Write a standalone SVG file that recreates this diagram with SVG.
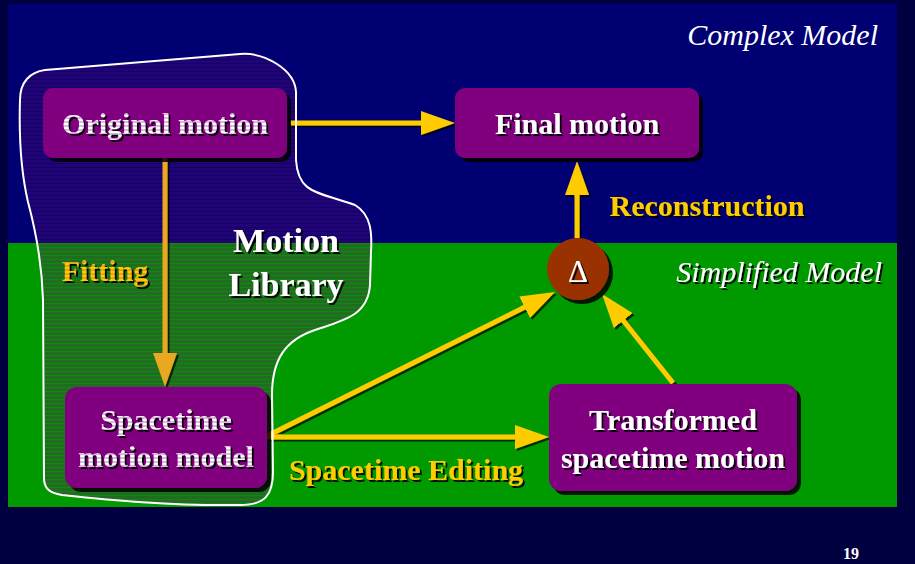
<svg xmlns="http://www.w3.org/2000/svg" width="915" height="564" viewBox="0 0 915 564">
<style>
.t{font-family:"Liberation Serif","Times New Roman",serif;font-weight:bold;font-size:30px;text-anchor:middle}
.w{fill:#ffffff}
.p{fill:url(#pinkstripe)}
.y{fill:#ffcc00}
.o{fill:url(#orangestripe)}
.it{font-family:"Liberation Serif","Times New Roman",serif;font-style:italic;font-size:30px;fill:#ffffff;text-anchor:end}
.box{fill:#800080}
.ln{stroke:#ffcc00;stroke-width:5;fill:none}
</style>
<defs>
<filter id="ts" x="-10%" y="-20%" width="130%" height="150%"><feDropShadow dx="2" dy="2" stdDeviation="0" flood-color="#000000" flood-opacity="0.9"/></filter>
<filter id="bs" x="-10%" y="-10%" width="130%" height="130%"><feDropShadow dx="4" dy="4" stdDeviation="0.6" flood-color="#000000" flood-opacity="0.85"/></filter>
<filter id="as" x="-20%" y="-20%" width="150%" height="150%"><feDropShadow dx="2" dy="2" stdDeviation="0" flood-color="#000000" flood-opacity="0.7"/></filter>
<marker id="ah" markerUnits="userSpaceOnUse" markerWidth="34" markerHeight="24" refX="2" refY="12" orient="auto"><path d="M0,0 L34,12 L0,24 Z" fill="#ffcc00"/></marker>
<marker id="aho" markerUnits="userSpaceOnUse" markerWidth="34" markerHeight="24" refX="2" refY="12" orient="auto"><path d="M0,0 L34,12 L0,24 Z" fill="#e8a820"/></marker>
<pattern id="hatch" patternUnits="userSpaceOnUse" width="6" height="4"><rect width="6" height="3" fill="#6e0a6e" fill-opacity="0.32"/><rect y="3" width="6" height="1" fill="#6e0a6e" fill-opacity="0.1"/></pattern>
<pattern id="pinkstripe" patternUnits="userSpaceOnUse" width="6" height="4"><rect width="6" height="4" fill="#ffffff"/><rect y="1" width="6" height="2" fill="#dcbcdc"/></pattern>
<pattern id="orangestripe" patternUnits="userSpaceOnUse" width="6" height="4"><rect width="6" height="4" fill="#ffcc00"/><rect y="1" width="6" height="2" fill="#e6a41c"/></pattern>
</defs>
<rect width="915" height="564" fill="#000040"/>
<rect x="8" y="4" width="889" height="240" fill="#000073"/>
<rect x="8" y="243" width="889" height="264" fill="#009900"/>
<path id="library-fill" d="M20 100 C20 82 30 72 45 70 L240 54 C265 52 295 70 296 92 L296 160 C298 195 320 192 355 205 C372 215 372 235 371 252 L370 285 C368 315 345 320 315 330 C285 340 272 360 272 395 L273 472 C273 495 265 505 240 505 C170 506 110 500 62 495 C49 493 44 488 44 478 L43 300 C42 262 36 232 28 202 C21 172 19 132 20 100 Z" fill="url(#hatch)"/>
<g id="connectors" filter="url(#as)">
<line class="ln" x1="290" y1="123" x2="423" y2="123" marker-end="url(#ah)"/>
<line class="ln" x1="577" y1="238" x2="577" y2="193" marker-end="url(#ah)"/>
<line class="ln" x1="165" y1="158" x2="165" y2="355" style="stroke:#e8a820" marker-end="url(#aho)"/>
<line class="ln" x1="267" y1="437" x2="517" y2="437" marker-end="url(#ah)"/>
<line class="ln" x1="267" y1="436" x2="526.4" y2="306.3" marker-end="url(#ah)"/>
<line class="ln" x1="673" y1="383" x2="622" y2="319" marker-end="url(#ah)"/>
</g>
<g id="edge-labels">
<text class="t y" x="707" y="216" filter="url(#ts)">Reconstruction</text>
<text class="t y" x="406" y="480" filter="url(#ts)">Spacetime Editing</text>
<text class="t o" x="105" y="281" filter="url(#ts)">Fitting</text>
</g>
<g id="original-motion">
<rect class="box" x="43" y="88" width="244" height="70" rx="10" filter="url(#bs)"/>
<text class="t p" x="165" y="134" filter="url(#ts)">Original motion</text>
</g>
<g id="final-motion">
<rect class="box" x="455" y="88" width="244" height="70" rx="10" filter="url(#bs)"/>
<text class="t w" x="577" y="134" filter="url(#ts)">Final motion</text>
</g>
<g id="spacetime-motion-model">
<rect class="box" x="65" y="387" width="202" height="101" rx="12" filter="url(#bs)"/>
<text class="t p" x="166" y="430" filter="url(#ts)">Spacetime</text>
<text class="t p" x="166" y="467" filter="url(#ts)">motion model</text>
</g>
<g id="transformed-spacetime-motion">
<rect class="box" x="549" y="384" width="248" height="107" rx="12" filter="url(#bs)"/>
<text class="t w" x="673" y="430" filter="url(#ts)">Transformed</text>
<text class="t w" x="673" y="468" filter="url(#ts)">spacetime motion</text>
</g>
<g id="delta">
<circle cx="578" cy="269" r="31" fill="#993300" filter="url(#bs)"/>
<text class="t w" x="578" y="282" style="font-weight:normal;font-size:31px" filter="url(#ts)">Δ</text>
</g>
<g id="motion-library">
<path d="M20 100 C20 82 30 72 45 70 L240 54 C265 52 295 70 296 92 L296 160 C298 195 320 192 355 205 C372 215 372 235 371 252 L370 285 C368 315 345 320 315 330 C285 340 272 360 272 395 L273 472 C273 495 265 505 240 505 C170 506 110 500 62 495 C49 493 44 488 44 478 L43 300 C42 262 36 232 28 202 C21 172 19 132 20 100 Z" fill="none" stroke="#ffffff" stroke-width="2"/>
<text class="t w" x="286" y="252" style="font-size:34px" filter="url(#ts)">Motion</text>
<text class="t w" x="286" y="296" style="font-size:34px" filter="url(#ts)">Library</text>
</g>
<g id="model-labels">
<text class="it" x="878" y="45">Complex Model</text>
<text class="it" x="882" y="282" filter="url(#ts)">Simplified Model</text>
</g>
<text x="851" y="559" style="font-family:'Liberation Serif','Times New Roman',serif;font-weight:bold;font-size:16px;fill:#ffffff;text-anchor:middle">19</text>
</svg>
